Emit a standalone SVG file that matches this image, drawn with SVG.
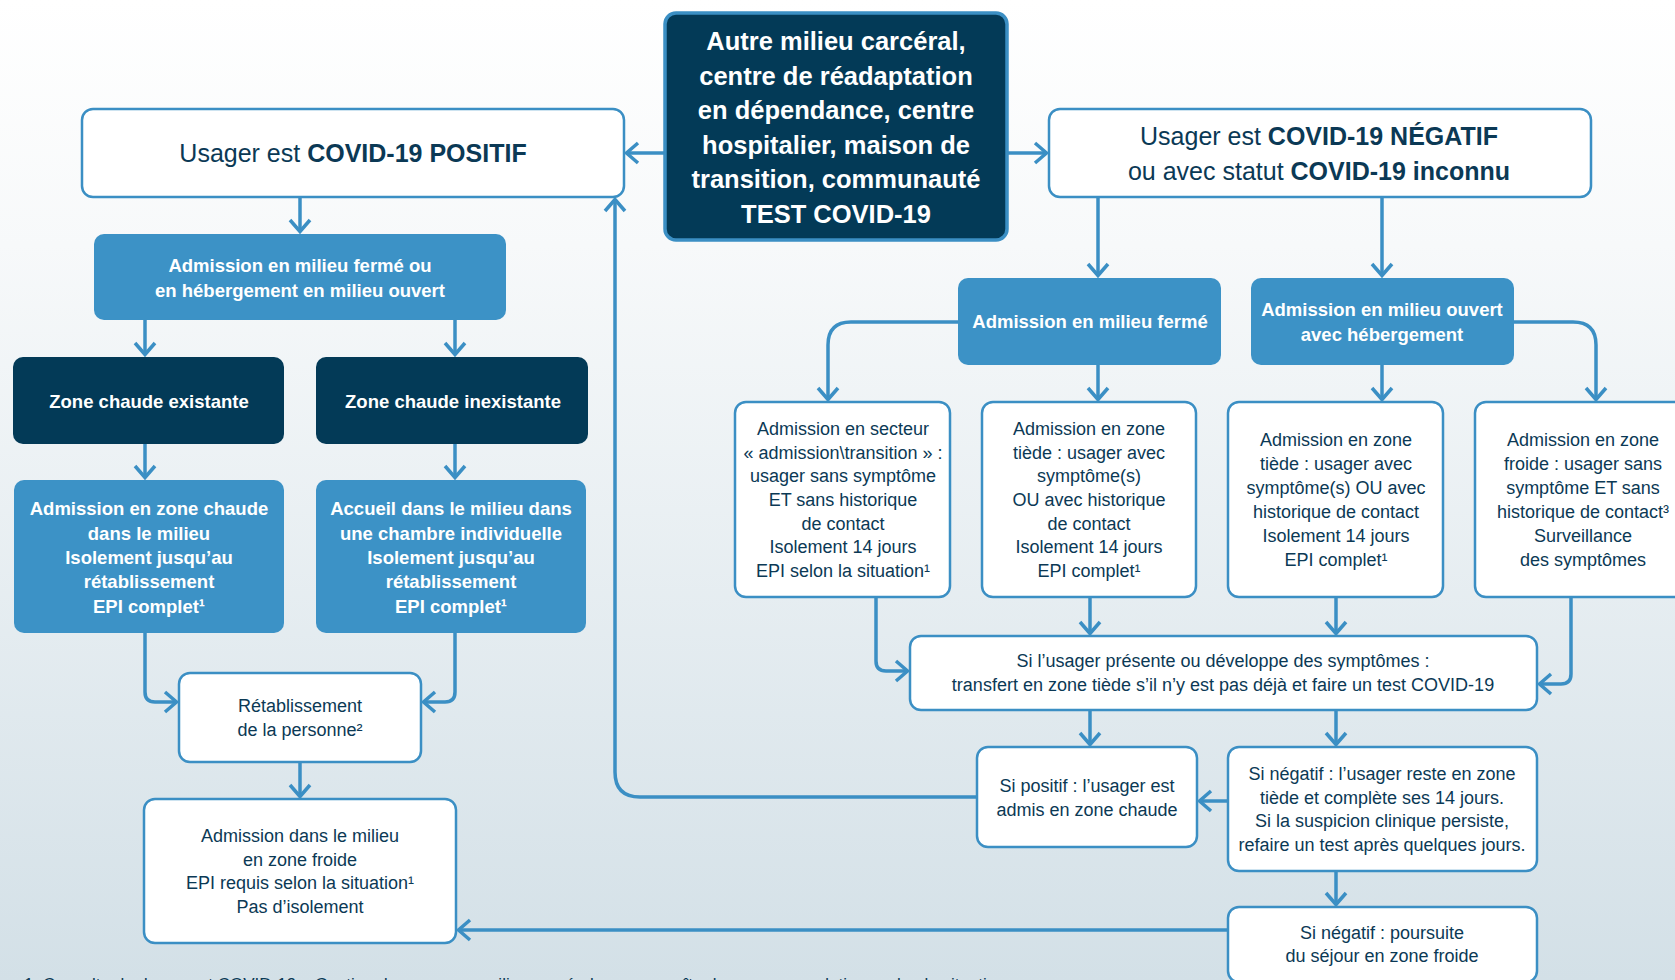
<svg xmlns="http://www.w3.org/2000/svg" width="1675" height="980" viewBox="0 0 1675 980">
<defs>
<linearGradient id="bg" x1="0" y1="0" x2="0" y2="1">
<stop offset="0" stop-color="#ffffff"/>
<stop offset="0.25" stop-color="#f7f9fa"/>
<stop offset="1" stop-color="#d3e0e7"/>
</linearGradient>
<marker id="ah" markerUnits="userSpaceOnUse" markerWidth="20" markerHeight="26" viewBox="0 0 20 26" refX="16" refY="13" orient="auto">
<path d="M4,3 L15.5,13 L4,23" fill="none" stroke="#3b8fc4" stroke-width="3.5"/>
</marker>
<style>
.wb{fill:#ffffff;stroke:#3b8fc4;stroke-width:2.5}
.mb{fill:#3c92c6}
.db{fill:#033a57}
.dbs{fill:#033a57;stroke:#3b8fc4;stroke-width:3.5}
text{font-family:"Liberation Sans",Arial,sans-serif;text-anchor:middle}
.t{font-size:18px;fill:#0b3955}
.tb{font-size:18.5px;font-weight:bold;fill:#ffffff}
.tc{font-size:25.5px;font-weight:bold;fill:#ffffff}
.tl{font-size:25px;fill:#0b3955}
.b{font-weight:bold}
.fn{font-size:17px;fill:#0b3955;text-anchor:start}
.c{fill:none;stroke:#3b8fc4;stroke-width:3.5;marker-end:url(#ah)}
</style>
</defs>
<rect x="0" y="0" width="1675" height="980" fill="url(#bg)"/>

<g id="connectors">
<path class="c" d="M665,153 H626"/>
<path class="c" d="M1007,153 H1047"/>
<path class="c" d="M300,197 V232"/>
<path class="c" d="M145,320 V355"/>
<path class="c" d="M455,320 V355"/>
<path class="c" d="M145,444 V478"/>
<path class="c" d="M455,444 V478"/>
<path class="c" d="M145,633 V692 Q145,702 155,702 H177"/>
<path class="c" d="M455,633 V692 Q455,702 445,702 H423"/>
<path class="c" d="M300,762 V797"/>
<path class="c" d="M1098,197 V276"/>
<path class="c" d="M1382,197 V276"/>
<path class="c" d="M958,322 H851 Q828,322 828,345 V400"/>
<path class="c" d="M1098,365 V400"/>
<path class="c" d="M1382,365 V400"/>
<path class="c" d="M1514,322 H1573 Q1596,322 1596,345 V400"/>
<path class="c" d="M876,597 V661 Q876,671 886,671 H908"/>
<path class="c" d="M1090,597 V634"/>
<path class="c" d="M1336,597 V634"/>
<path class="c" d="M1571,597 V674 Q1571,684 1561,684 H1539"/>
<path class="c" d="M1090,710 V745"/>
<path class="c" d="M1336,710 V745"/>
<path class="c" d="M1228,801 H1199"/>
<path class="c" d="M977,797 H640 Q615,797 615,772 V199"/>
<path class="c" d="M1336,871 V905"/>
<path class="c" d="M1228,930 H458"/>
</g>

<g id="n-source">
<rect class="dbs" x="665" y="13" width="342" height="227" rx="11"/>
<text class="tc" x="836" y="50">Autre milieu carcéral,</text>
<text class="tc" x="836" y="84.6">centre de réadaptation</text>
<text class="tc" x="836" y="119.2">en dépendance, centre</text>
<text class="tc" x="836" y="153.8">hospitalier, maison de</text>
<text class="tc" x="836" y="188.4">transition, communauté</text>
<text class="tc" x="836" y="223">TEST COVID-19</text>
</g>

<g id="n-positif">
<rect class="wb" x="82" y="109" width="542" height="88" rx="11"/>
<text class="tl" x="353" y="162">Usager est <tspan class="b">COVID-19 POSITIF</tspan></text>
</g>

<g id="n-negatif">
<rect class="wb" x="1049" y="109" width="542" height="88" rx="11"/>
<text class="tl" x="1319" y="145">Usager est <tspan class="b">COVID-19 NÉGATIF</tspan></text>
<text class="tl" x="1319" y="180">ou avec statut <tspan class="b">COVID-19 inconnu</tspan></text>
</g>

<g id="n-admission-pos">
<rect class="mb" x="94" y="234" width="412" height="86" rx="10"/>
<text class="tb" x="300" y="272">Admission en milieu fermé ou</text>
<text class="tb" x="300" y="297">en hébergement en milieu ouvert</text>
</g>

<g id="n-zc-existante">
<rect class="db" x="13" y="357" width="271" height="87" rx="10"/>
<text class="tb" x="149" y="408">Zone chaude existante</text>
</g>

<g id="n-zc-inexistante">
<rect class="db" x="316" y="357" width="272" height="87" rx="10"/>
<text class="tb" x="453" y="408">Zone chaude inexistante</text>
</g>

<g id="n-zone-chaude">
<rect class="mb" x="14" y="480" width="270" height="153" rx="10"/>
<text class="tb" x="149" y="515">Admission en zone chaude</text>
<text class="tb" x="149" y="540">dans le milieu</text>
<text class="tb" x="149" y="564">Isolement jusqu’au</text>
<text class="tb" x="149" y="588">rétablissement</text>
<text class="tb" x="149" y="613">EPI complet¹</text>
</g>

<g id="n-chambre">
<rect class="mb" x="316" y="480" width="270" height="153" rx="10"/>
<text class="tb" x="451" y="515">Accueil dans le milieu dans</text>
<text class="tb" x="451" y="540">une chambre individuelle</text>
<text class="tb" x="451" y="564">Isolement jusqu’au</text>
<text class="tb" x="451" y="588">rétablissement</text>
<text class="tb" x="451" y="613">EPI complet¹</text>
</g>

<g id="n-retablissement">
<rect class="wb" x="179" y="673" width="242" height="89" rx="11"/>
<text class="t" x="300" y="712">Rétablissement</text>
<text class="t" x="300" y="736">de la personne²</text>
</g>

<g id="n-zone-froide">
<rect class="wb" x="144" y="799" width="312" height="144" rx="11"/>
<text class="t" x="300" y="842">Admission dans le milieu</text>
<text class="t" x="300" y="866">en zone froide</text>
<text class="t" x="300" y="889">EPI requis selon la situation¹</text>
<text class="t" x="300" y="913">Pas d’isolement</text>
</g>

<g id="n-ferme">
<rect class="mb" x="958" y="278" width="263" height="87" rx="10"/>
<text class="tb" x="1090" y="328">Admission en milieu fermé</text>
</g>

<g id="n-ouvert">
<rect class="mb" x="1251" y="278" width="263" height="87" rx="10"/>
<text class="tb" x="1382" y="316">Admission en milieu ouvert</text>
<text class="tb" x="1382" y="341">avec hébergement</text>
</g>

<g id="n-secteur">
<rect class="wb" x="735" y="402" width="215" height="195" rx="11"/>
<text class="t" x="843" y="435">Admission en secteur</text>
<text class="t" x="843" y="459">« admission\transition » :</text>
<text class="t" x="843" y="482">usager sans symptôme</text>
<text class="t" x="843" y="506">ET sans historique</text>
<text class="t" x="843" y="530">de contact</text>
<text class="t" x="843" y="553">Isolement 14 jours</text>
<text class="t" x="843" y="577">EPI selon la situation¹</text>
</g>

<g id="n-tiede-ferme">
<rect class="wb" x="982" y="402" width="214" height="195" rx="11"/>
<text class="t" x="1089" y="435">Admission en zone</text>
<text class="t" x="1089" y="459">tiède : usager avec</text>
<text class="t" x="1089" y="482">symptôme(s)</text>
<text class="t" x="1089" y="506">OU avec historique</text>
<text class="t" x="1089" y="530">de contact</text>
<text class="t" x="1089" y="553">Isolement 14 jours</text>
<text class="t" x="1089" y="577">EPI complet¹</text>
</g>

<g id="n-tiede-ouvert">
<rect class="wb" x="1228" y="402" width="215" height="195" rx="11"/>
<text class="t" x="1336" y="446">Admission en zone</text>
<text class="t" x="1336" y="470">tiède : usager avec</text>
<text class="t" x="1336" y="494">symptôme(s) OU avec</text>
<text class="t" x="1336" y="518">historique de contact</text>
<text class="t" x="1336" y="542">Isolement 14 jours</text>
<text class="t" x="1336" y="566">EPI complet¹</text>
</g>

<g id="n-froide-ouvert">
<rect class="wb" x="1475" y="402" width="220" height="195" rx="11"/>
<text class="t" x="1583" y="446">Admission en zone</text>
<text class="t" x="1583" y="470">froide : usager sans</text>
<text class="t" x="1583" y="494">symptôme ET sans</text>
<text class="t" x="1583" y="518">historique de contact³</text>
<text class="t" x="1583" y="542">Surveillance</text>
<text class="t" x="1583" y="566">des symptômes</text>
</g>

<g id="n-symptomes">
<rect class="wb" x="910" y="636" width="627" height="74" rx="11"/>
<text class="t" x="1223" y="667">Si l’usager présente ou développe des symptômes :</text>
<text class="t" x="1223" y="691">transfert en zone tiède s’il n’y est pas déjà et faire un test COVID-19</text>
</g>

<g id="n-si-positif">
<rect class="wb" x="977" y="747" width="220" height="100" rx="11"/>
<text class="t" x="1087" y="792">Si positif : l’usager est</text>
<text class="t" x="1087" y="816">admis en zone chaude</text>
</g>

<g id="n-si-negatif">
<rect class="wb" x="1228" y="747" width="309" height="124" rx="11"/>
<text class="t" x="1382" y="780">Si négatif : l’usager reste en zone</text>
<text class="t" x="1382" y="804">tiède et complète ses 14 jours.</text>
<text class="t" x="1382" y="827">Si la suspicion clinique persiste,</text>
<text class="t" x="1382" y="851">refaire un test après quelques jours.</text>
</g>

<g id="n-poursuite">
<rect class="wb" x="1228" y="907" width="309" height="75" rx="11"/>
<text class="t" x="1382" y="939">Si négatif : poursuite</text>
<text class="t" x="1382" y="962">du séjour en zone froide</text>
</g>

<text class="fn" x="24" y="990">1. Consulter le document COVID-19 – Gestion des zones en milieu carcéral pour connaître les recommandations selon la situation.</text>
</svg>
